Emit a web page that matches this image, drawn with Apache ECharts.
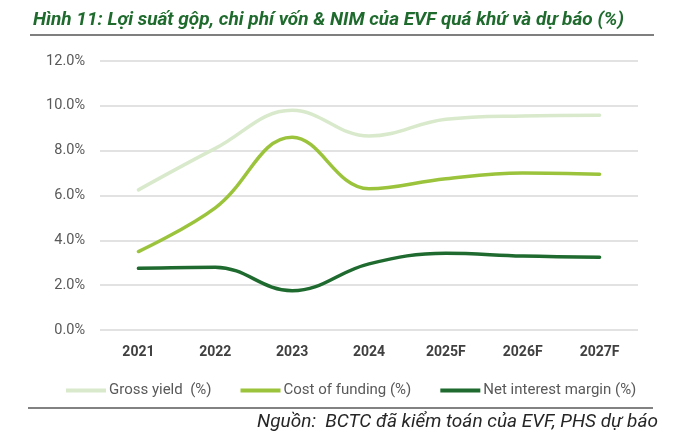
<!DOCTYPE html>
<html><head><meta charset="utf-8">
<script src="https://cdn.jsdelivr.net/npm/echarts@6/dist/echarts.min.js"></script>
<style>html,body{margin:0;padding:0;background:#fff}#c{width:690px;height:439px}</style>
</head><body><div id="c"></div>
<script>
const categories = ['2021','2022','2023','2024','2025F','2026F','2027F'];
const grossYield = [6.25, 8.1, 9.8, 8.65, 9.4, 9.55, 9.58];
const costOfFunding = [3.5, 5.45, 8.6, 6.3, 6.75, 7.0, 6.95];
const netInterestMargin = [2.75, 2.8, 1.75, 2.95, 3.42, 3.3, 3.25];
const yTicks = [0, 2, 4, 6, 8, 10, 12];

const chart = echarts.init(document.getElementById('c'));
const lineSeries = (name, data, color) => ({
  name, type: 'line', data, smooth: 0.4, symbol: 'none',
  lineStyle: { color, width: 3.5, cap: 'round' }, itemStyle: { color }
});
chart.setOption({
  animation: false,
  grid: { left: 100, right: 52, top: 61, bottom: 109 },
  title: {
    text: 'Hình 11: Lợi suất gộp, chi phí vốn & NIM của EVF quá khứ và dự báo (%)',
    left: 28, top: 6,
    textStyle: { fontFamily: 'Roboto', fontStyle: 'italic', fontWeight: 'bold', fontSize: 19, color: '#1f6b2e' }
  },
  legend: {
    top: 378, left: 61, itemWidth: 40, itemHeight: 4, itemGap: 29,
    icon: 'rect',
    textStyle: { fontFamily: 'Roboto', fontSize: 15, color: '#595959', padding: [0,0,0,-2] },
    data: ['Gross yield  (%)', 'Cost of funding (%)', 'Net interest margin (%)']
  },
  xAxis: {
    type: 'category', data: categories, boundaryGap: true,
    axisLine: { show: false }, axisTick: { show: false },
    axisLabel: { fontFamily: 'Roboto', fontWeight: 'bold', fontSize: 14, color: '#404040', margin: 15 }
  },
  yAxis: {
    type: 'value', min: 0, max: 12, interval: 2,
    axisLine: { show: false }, axisTick: { show: false },
    splitLine: { lineStyle: { color: '#d9d9d9', width: 1.5 } },
    axisLabel: { fontFamily: 'Roboto', fontSize: 14.5, color: '#595959', margin: 15,
      formatter: v => v.toFixed(1) + '%' }
  },
  series: [
    lineSeries('Gross yield  (%)', grossYield, '#d8eacb'),
    lineSeries('Cost of funding (%)', costOfFunding, '#9bc43c'),
    lineSeries('Net interest margin (%)', netInterestMargin, '#1e6a2f')
  ],
  graphic: [
    { type: 'line', shape: { x1: 30, y1: 35, x2: 654, y2: 35 }, style: { stroke: '#7f7f7f', lineWidth: 2 } },
    { type: 'line', shape: { x1: 28, y1: 408, x2: 653, y2: 408 }, style: { stroke: '#595959', lineWidth: 1.5 } },
    { type: 'text', right: 32, top: 413, style: {
      text: 'Nguồn:  BCTC đã kiểm toán của EVF, PHS dự báo',
      fontFamily: 'Roboto', fontStyle: 'italic', fontSize: 19, fill: '#262626' } }
  ]
});
</script></body></html>
